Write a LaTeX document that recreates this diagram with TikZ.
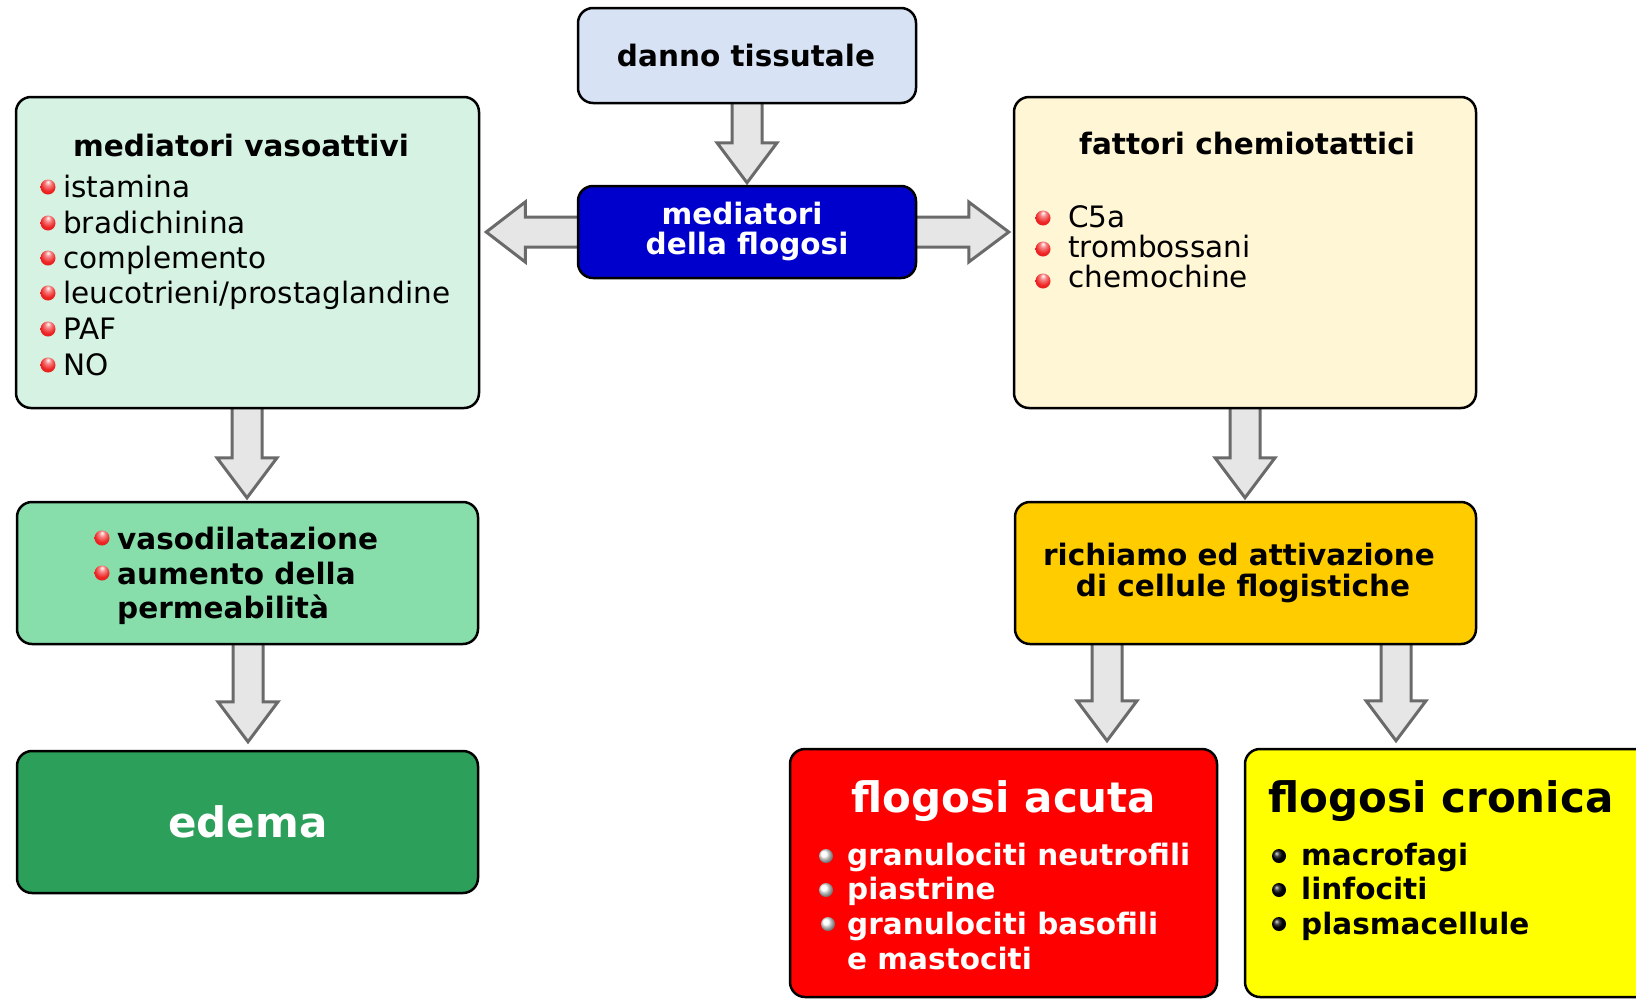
\documentclass[tikz,border=0pt]{standalone}
\usepackage{fontspec}
\setmainfont{DejaVu Sans}
\usetikzlibrary{calc}
\pgfdeclarelayer{back}
\pgfdeclarelayer{bg}
\pgfsetlayers{back,bg,main}
\definecolor{cDanno}{HTML}{D7E3F4}
\definecolor{cMed}{HTML}{0000CC}
\definecolor{cVaso}{HTML}{D5F2E3}
\definecolor{cVasoDil}{HTML}{87DEAA}
\definecolor{cEdema}{HTML}{2CA05A}
\definecolor{cChemio}{HTML}{FFF6D5}
\definecolor{cRich}{HTML}{FFCC00}
\definecolor{cAcuta}{HTML}{FF0000}
\definecolor{cCron}{HTML}{FFFF00}
\definecolor{arrowfill}{HTML}{E6E6E6}
\definecolor{arrowline}{HTML}{6A6A6A}
\definecolor{bulred}{HTML}{EE2222}
\pgfdeclareradialshading{redball}{\pgfpoint{0bp}{18bp}}{%
  color(0bp)=(white); color(10bp)=(bulred!55!white); color(24bp)=(bulred);
  color(42bp)=(bulred!92!black); color(50bp)=(bulred!85!black)}
\newcommand{\normsize}{\fontsize{29.5}{30}\selectfont}
\newcommand{\bigsize}{\fontsize{42}{44}\selectfont}
% vertical block arrow: source, target, x, gap above target
\newcommand{\vblk}[4]{%
  \path[blk] let \p1=(#1.south), \p2=(#2.north) in
    ({#3pt-15pt},{\y1+8pt}) -- ({#3pt-15pt},{\y2+#4pt+40pt}) -- ({#3pt-30pt},{\y2+#4pt+40pt})
    -- ({#3pt},{\y2+#4pt}) -- ({#3pt+30pt},{\y2+#4pt+40pt}) -- ({#3pt+15pt},{\y2+#4pt+40pt})
    -- ({#3pt+15pt},{\y1+8pt}) -- cycle;}
\tikzset{
  box/.style={draw=black, line width=2.5pt, rounded corners=15pt, inner sep=0pt},
  blk/.style={fill=arrowfill, draw=arrowline, line width=3pt, line join=miter},
  txt/.style={inner sep=0pt, anchor=base west, font=\normsize},
  btxt/.style={inner sep=0pt, anchor=base west, font=\normsize\bfseries},
  ctitle/.style={inner sep=0pt, anchor=base, font=\normsize\bfseries},
  rbul/.style={shading=redball},
}
\begin{document}
\begin{tikzpicture}[x=1pt,y=-1pt]
\clip (0,0) rectangle (1636,999);
\begin{pgfonlayer}{back}
\fill[white] (0,0) rectangle (1636,999);
\end{pgfonlayer}

% boxes
\node[box, fill=cDanno, minimum width=338pt, minimum height=95pt] (danno) at (747,55.5) {};
\node[box, fill=cMed, minimum width=338pt, minimum height=92pt] (med) at (747,232) {};
\node[box, fill=cVaso, minimum width=463pt, minimum height=311pt] (vaso) at (247.5,252.5) {};
\node[box, fill=cChemio, minimum width=462pt, minimum height=311pt] (chemio) at (1245,252.5) {};
\node[box, fill=cVasoDil, minimum width=461pt, minimum height=142pt] (vdil) at (247.5,573) {};
\node[box, fill=cEdema, minimum width=461pt, minimum height=142pt] (edema) at (247.5,822) {};
\node[box, fill=cRich, minimum width=461pt, minimum height=142pt] (rich) at (1245.5,573) {};
\node[box, fill=cAcuta, minimum width=427pt, minimum height=248pt] (acuta) at (1003.5,873) {};
\node[box, fill=cCron, minimum width=435pt, minimum height=248pt] (cron) at (1462.5,873) {};

% arrows
\begin{pgfonlayer}{bg}
\vblk{danno}{med}{747}{2}
\vblk{vaso}{vdil}{247}{3}
\vblk{chemio}{rich}{1245}{3}
\vblk{vdil}{edema}{248}{8}
\vblk{rich}{acuta}{1107}{7}
\vblk{rich}{cron}{1396}{7}
\path[blk] let \p1=(med.west), \p2=(vaso.east) in
  ({\x1+8pt},{\y1+15pt}) -- ({\x2+45pt},{\y1+15pt}) -- ({\x2+45pt},{\y1+30pt})
  -- ({\x2+6pt},{\y1}) -- ({\x2+45pt},{\y1-30pt}) -- ({\x2+45pt},{\y1-15pt})
  -- ({\x1+8pt},{\y1-15pt}) -- cycle;
\path[blk] let \p1=(med.east), \p2=(chemio.west) in
  ({\x1-8pt},{\y1+15pt}) -- ({\x2-44pt},{\y1+15pt}) -- ({\x2-44pt},{\y1+30pt})
  -- ({\x2-4pt},{\y1}) -- ({\x2-44pt},{\y1-30pt}) -- ({\x2-44pt},{\y1-15pt})
  -- ({\x1-8pt},{\y1-15pt}) -- cycle;
\end{pgfonlayer}

% danno / mediatori
\node[ctitle] (tdanno) at (746,66) {danno tissutale};
\node[ctitle, text=white] (tmed1) at (742,224) {mediatori};
\node[ctitle, text=white] (tmed2) at (747,254) {della flogosi};

% mediatori vasoattivi
\node[ctitle] (tvaso) at (241,156) {mediatori vasoattivi};
\node[txt] (v1) at (63,197) {istamina};
\node[txt] (v2) at (63,233) {bradichinina};
\node[txt] (v3) at (63,268) {complemento};
\node[txt] (v4) at (63,303) {leucotrieni/prostaglandine};
\node[txt] (v5) at (63,339) {PAF};
\node[txt] (v6) at (63,375) {NO};
\foreach \yy in {187,223,258,293,329,365} \shade[rbul] (48,\yy) circle [radius=7.5pt];

% fattori chemiotattici
\node[ctitle] (tchemio) at (1247,154) {fattori chemiotattici};
\node[txt] (c1) at (1068,227) {C5a};
\node[txt] (c2) at (1068,257) {trombossani};
\node[txt] (c3) at (1068,287) {chemochine};
\foreach \yy in {218,249,281} \shade[rbul] (1043,\yy) circle [radius=7.5pt];

% vasodilatazione
\node[btxt] (d1) at (117,549) {vasodilatazione};
\node[btxt] (d2) at (117,584) {aumento della};
\node[btxt] (d3) at (117,618) {permeabilità};
\foreach \yy in {538,573} \shade[rbul] (102,\yy) circle [radius=7.5pt];

% edema
\node[inner sep=0pt, anchor=base, font=\bigsize\bfseries, text=white] (tedema) at (248,837) {edema};

% richiamo
\node[ctitle] (tr1) at (1239,565) {richiamo ed attivazione};
\node[ctitle] (tr2) at (1243,596) {di cellule flogistiche};

% flogosi acuta
\node[inner sep=0pt, anchor=base, font=\bigsize\bfseries, text=white] (tacuta) at (1004,812) {flogosi acuta};
\node[btxt, text=white] (a1) at (847,865) {granulociti neutrofili};
\node[btxt, text=white] (a2) at (847,899) {piastrine};
\node[btxt, text=white] (a3) at (847,934) {granulociti basofili};
\node[btxt, text=white] (a4) at (847,969) {e mastociti};
\foreach \yy/\xx in {856/826,890/826,924/828} \shade[ball color=white] (\xx,\yy) circle [radius=7pt];

% flogosi cronica
\node[inner sep=0pt, anchor=base, font=\bigsize\bfseries] (tcron) at (1441,812) {flogosi cronica};
\node[btxt] (h1) at (1301,865) {macrofagi};
\node[btxt] (h2) at (1301,899) {linfociti};
\node[btxt] (h3) at (1301,934) {plasmacellule};
\foreach \yy in {856,890,924} \shade[ball color=black] (1279,\yy) circle [radius=7pt];
\end{tikzpicture}
\end{document}
